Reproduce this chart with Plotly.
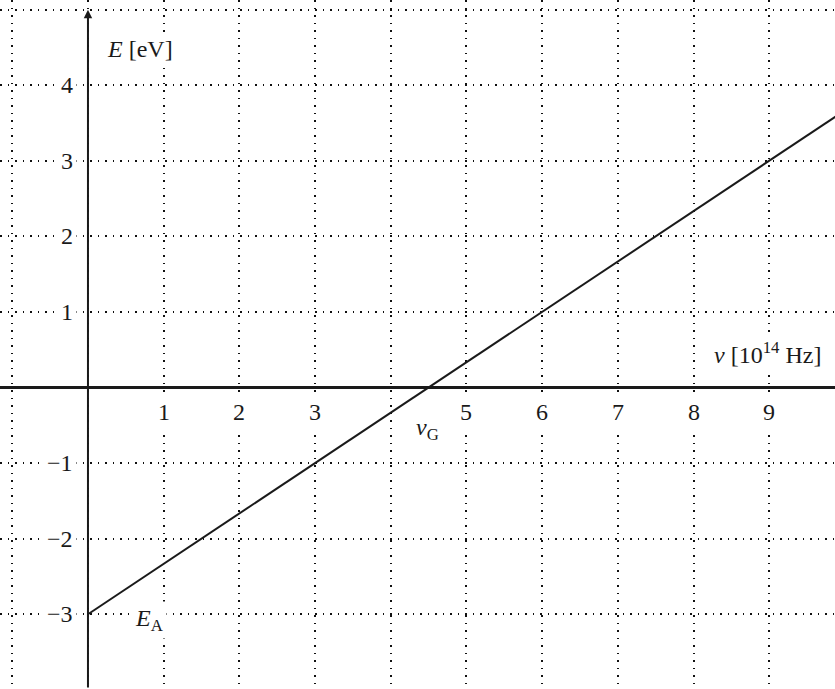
import plotly.graph_objects as go

# Photoelectric effect: kinetic energy vs. frequency
nu = [0, 3, 4.5, 6, 9, 10]            # frequency in 10^14 Hz
energy = [-3, -1, 0, 1, 3, 3.67]      # energy in eV

x_ticks = [1, 2, 3, 5, 6, 7, 8, 9]
x_tick_labels = ["1", "2", "3", "5", "6", "7", "8", "9"]
y_ticks = [4, 3, 2, 1, -1, -2, -3]
y_tick_labels = ["4", "3", "2", "1", "\u22121", "\u22122", "\u22123"]

x_range = [-1.162, 9.868]
y_range = [-3.99, 5.13]
y_axis_top = 5.0

FONT = "Liberation Serif"
FS = 24
INK = "#1a1a1a"

fig = go.Figure()
fig.add_trace(go.Scatter(
    x=nu, y=energy, mode="lines",
    line=dict(color=INK, width=2),
    hoverinfo="skip", showlegend=False,
))

annotations = []
for xv, lab in zip(x_ticks, x_tick_labels):
    annotations.append(dict(
        x=xv, y=-0.33, xref="x", yref="y", text=lab, showarrow=False,
        xanchor="center", yanchor="middle", bgcolor="white", borderpad=4,
        font=dict(family=FONT, size=FS, color=INK),
    ))
for yv, lab in zip(y_ticks, y_tick_labels):
    annotations.append(dict(
        x=-0.15, y=yv, xref="x", yref="y", text=lab, showarrow=False,
        xanchor="right", yanchor="middle", bgcolor="white", borderpad=3,
        font=dict(family=FONT, size=FS, color=INK),
    ))

# vertical energy axis with arrow head
annotations.append(dict(
    x=0, y=y_axis_top, ax=0, ay=y_range[0],
    xref="x", yref="y", axref="x", ayref="y",
    text="", showarrow=True, arrowhead=2, arrowsize=0.85, arrowwidth=2,
    arrowcolor=INK, standoff=0, startstandoff=0,
))

# axis titles and point labels
annotations += [
    dict(x=0.69, y=4.48, xref="x", yref="y", text="<i>E</i> [eV]",
         showarrow=False, bgcolor="white", borderpad=3,
         font=dict(family=FONT, size=FS, color=INK)),
    dict(x=8.98, y=0.46, xref="x", yref="y", text="<i>\u03bd</i> [10<sup>14</sup> Hz]",
         showarrow=False, bgcolor="white", borderpad=3,
         font=dict(family=FONT, size=FS, color=INK)),
    dict(x=4.49, y=-0.55, xref="x", yref="y",
         text="<i>\u03bd</i><sub>G</sub>",
         showarrow=False, bgcolor="white", borderpad=2,
         font=dict(family=FONT, size=FS, color=INK)),
    dict(x=0.81, y=-3.07, xref="x", yref="y",
         text="<i>E</i><sub>A</sub>",
         showarrow=False, bgcolor="white", borderpad=3,
         font=dict(family=FONT, size=FS, color=INK)),
]

grid_style = dict(
    showgrid=True, gridcolor="#111", gridwidth=1.6, griddash="1.6px,5.9px",
    tick0=0, dtick=1, showticklabels=False, ticks="", showline=False,
)

fig.update_layout(
    width=835, height=689,
    margin=dict(l=0, r=0, t=0, b=0),
    paper_bgcolor="white", plot_bgcolor="white",
    xaxis=dict(range=x_range, zeroline=False, **grid_style),
    yaxis=dict(range=y_range, zeroline=True, zerolinecolor=INK,
               zerolinewidth=2.5, **grid_style),
    annotations=annotations,
    showlegend=False,
)

fig.write_html("out.html")
